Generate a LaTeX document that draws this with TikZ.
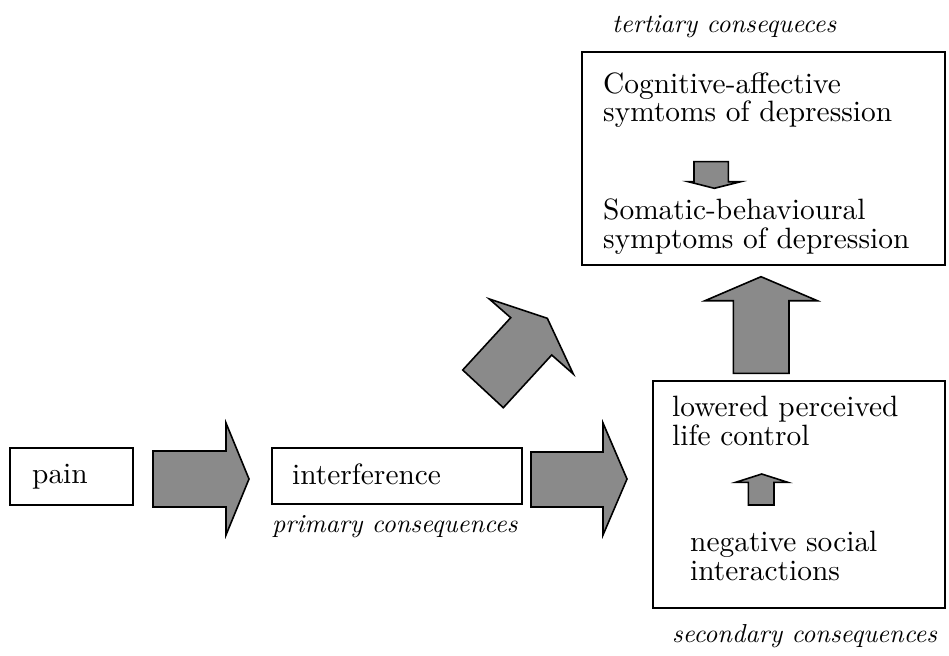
\documentclass[tikz,border=0pt]{standalone}
\usepackage{fontspec}
\setmainfont{lmroman10}[Extension=.otf, UprightFont=*-regular, ItalicFont=*-italic, BoldFont=*-bold]
\begin{document}
\begin{tikzpicture}[x=1pt,y=-1pt,
  box/.style={draw=black,line width=1.6pt,fill=white},
  blockarrow/.style={draw=black,line width=1.6pt,fill=arrowgray,line join=miter},
  txt/.style={anchor=base west,inner sep=0pt,align=left,font=\fontsize{29.4}{28.3}\selectfont},
  note/.style={anchor=base west,inner sep=0pt,font=\fontsize{26}{28}\selectfont\itshape}]
\definecolor{arrowgray}{RGB}{138,138,138}
\useasboundingbox (0,0) rectangle (949,655);

% boxes
\draw[box] (10,448) rectangle (133,505);
\draw[box] (272,448) rectangle (522,504);
\draw[box] (582,52) rectangle (945,265);
\draw[box] (653,381) rectangle (945,608);

% box texts (base anchor = baseline of the last line)
\node[txt] (pain) at (32,483) {pain};
\node[txt] (interf) at (292,484) {interference};
\node[note] (primary) at (272,532) {primary consequences};
\node[note] (tertiary) at (612,33) {tertiary consequeces};
\node[txt] (cogn) at (603,122) {Cognitive-affective\\symtoms of depression};
\node[txt] (somat) at (603,248) {Somatic-behavioural\\symptoms of depression};
\node[txt] (lowered) at (672,445) {lowered perceived\\life control};
\node[txt] (negative) at (690,580) {negative social\\interactions};
\node[note] (secondary) at (672,642) {secondary consequences};

% block arrows
\draw[blockarrow] (153,451) -- (226,451) -- (226,423) -- (249,479) -- (226,535) -- (226,507) -- (153,507) -- cycle;
\draw[blockarrow] (531,452) -- (603,452) -- (603,423) -- (627,479) -- (603,535) -- (603,507) -- (531,507) -- cycle;
\draw[blockarrow] (462.7,370) -- (510.7,317.7) -- (489.3,299) -- (547.3,318.3) -- (573.3,374) -- (551.7,355) -- (503.3,407.7) -- cycle;
\draw[blockarrow] (733.3,373.3) -- (733.3,300.7) -- (705,300.7) -- (761,276.7) -- (817.3,300.7) -- (789,300.7) -- (789,373.3) -- cycle;
\draw[blockarrow] (694,161.7) -- (728.3,161.7) -- (728.3,181.7) -- (740.7,181.7) -- (714.3,188.3) -- (688.3,181.7) -- (694,181.7) -- cycle;
\draw[blockarrow] (748.3,505) -- (748.3,482.3) -- (735.7,482.3) -- (761.7,474) -- (787.7,482.3) -- (774,482.3) -- (774,505) -- cycle;
\end{tikzpicture}
\end{document}
